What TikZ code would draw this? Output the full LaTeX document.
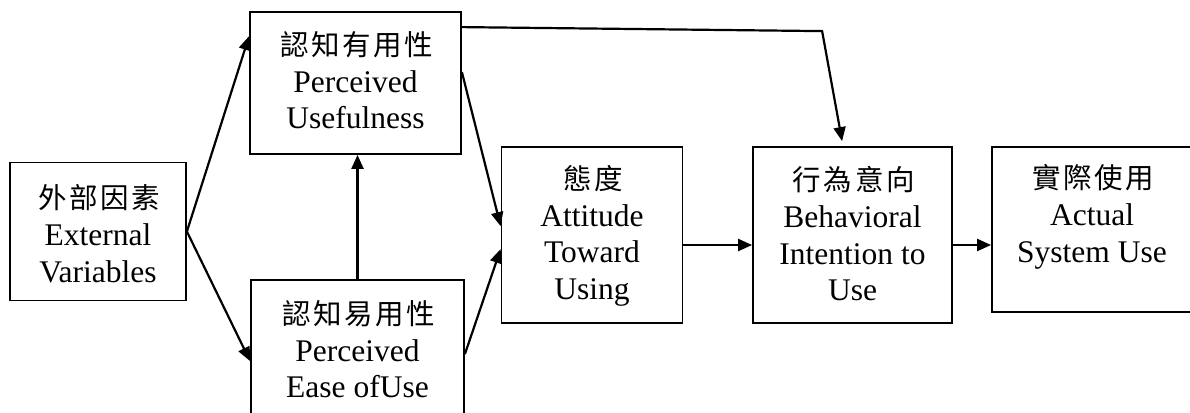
\documentclass[tikz,border=0pt]{standalone}
\usepackage{fontspec}
\setmainfont{Liberation Serif}
\newfontfamily\cjk[LetterSpace=9]{Noto Sans CJK TC}
\XeTeXuseglyphmetrics=1
\usetikzlibrary{arrows.meta}
% Chinese line: spaced glyphs, trailing letter space removed so it centres
\newcommand\zh[1]{{\cjk\fontsize{28.5}{32}\selectfont #1\kern-0.09em}}

\begin{document}
\begin{tikzpicture}[x=1pt,y=-1pt,
  box/.style={draw, line width=1.8pt, inner sep=0pt},
  lbl/.style={anchor=north, inner sep=0pt, align=center,
              font=\fontsize{31.5}{36.5}\selectfont},
  link/.style={line width=2.2pt, -{Triangle[length=14pt,width=12pt]}}]
\clip (0,0) rectangle (1190,412);

% boxes
\node[box, minimum width=176pt, minimum height=138pt] (ext)  at (98,231.5) {};
\node[box, minimum width=211pt, minimum height=142pt] (pu)   at (355.5,83) {};
\node[box, minimum width=213pt, minimum height=150pt] (peou) at (357.5,355) {};
\node[box, minimum width=181pt, minimum height=176pt] (att)  at (592,235) {};
\node[box, minimum width=199pt, minimum height=176pt] (bi)   at (852.5,235) {};
\node[box, minimum width=200pt, minimum height=165pt] (act)  at (1092,229.5) {};

% labels
\node[lbl] (extT)  at ([yshift=-23pt]ext.north)  {\zh{外部因素}\\[0.6pt] External\\ Variables};
\node[lbl] (puT)   at ([yshift=-20pt]pu.north)   {\zh{認知有用性}\\[0.6pt] Perceived\\ Usefulness};
\node[lbl] (peouT) at ([yshift=-21pt]peou.north) {\zh{認知易用性}\\[0.6pt] Perceived\\ Ease ofUse};
\node[lbl] (attT)  at ([yshift=-19pt]att.north)  {\zh{態度}\\[0.6pt] Attitude\\ Toward\\ Using};
\node[lbl] (biT)   at ([yshift=-20pt]bi.north)   {\zh{行為意向}\\[0.6pt] Behavioral\\ Intention to\\ Use};
\node[lbl] (actT)  at ([yshift=-18pt]act.north)  {\zh{實際使用}\\[0.6pt] Actual\\ System Use};

% connectors
\draw[link] (ext.east) -- ([yshift=-25pt]pu.north west);
\draw[link] (ext.east) -- ([yshift=-82pt]peou.north west);
\draw[link] (peou.north) -- (peou.north |- pu.south);
\draw[link] ([yshift=-61pt]pu.north east) -- ([yshift=-80pt]att.north west);
\draw[link] ([yshift=-75pt]peou.north east) -- ([yshift=-103pt]att.north west);
\draw[link] ([yshift=-16pt]pu.north east) -- ([xshift=70pt,yshift=115pt]bi.north west)
            -- ([xshift=90pt,yshift=5pt]bi.north west);
\draw[link] ([yshift=-10pt]att.east) -- ([yshift=-10pt]bi.west);
\draw[link] ([yshift=-10pt]bi.east) -- ([yshift=-10pt]bi.east -| act.west);
\end{tikzpicture}
\end{document}
